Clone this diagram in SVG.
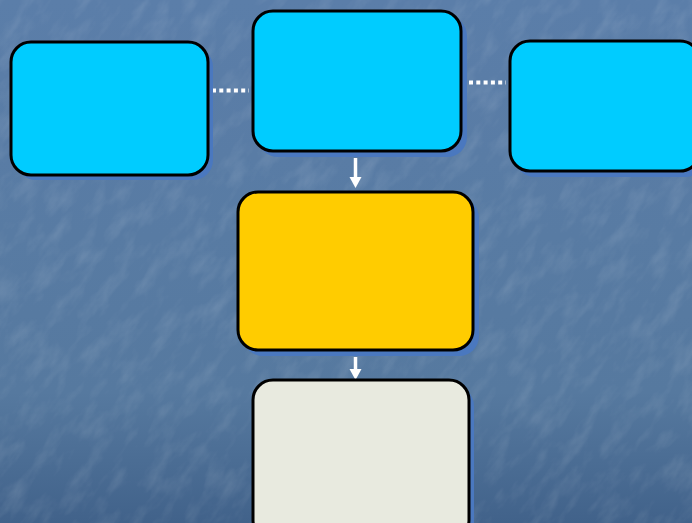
<svg xmlns="http://www.w3.org/2000/svg" width="692" height="523" viewBox="0 0 692 523">
  <defs>
    <linearGradient id="bg" x1="0" y1="0" x2="0" y2="1">
      <stop offset="0" stop-color="#5b7ea9"/>
      <stop offset="0.75" stop-color="#56799f"/>
      <stop offset="1" stop-color="#41628a"/>
    </linearGradient>
    <filter id="tex" x="0" y="0" width="100%" height="100%" filterUnits="objectBoundingBox">
      <feTurbulence type="fractalNoise" baseFrequency="0.03 0.07" numOctaves="4" seed="11"/>
      <feColorMatrix type="matrix" values="0 0 0 0 1  0 0 0 0 1  0 0 0 0 1  0 0 0 0.5 -0.22"/>
    </filter>
    <clipPath id="clip"><rect width="692" height="523"/></clipPath>
  </defs>
  <style>
    .box { stroke: #000000; stroke-width: 3; }
    .shadow { fill: #4a78bf; }
    .cyan { fill: #00ccff; }
    .yellow { fill: #ffcc00; }
    .light { fill: #e8eadf; }
    .dots { stroke: #ffffff; stroke-width: 4; stroke-dasharray: 4 3.3; fill: none; }
    .arrow { stroke: #ffffff; stroke-width: 3.5; fill: none; }
    .head { fill: #ffffff; }
  </style>
  <rect width="692" height="523" fill="url(#bg)"/>
  <g clip-path="url(#clip)">
    <g transform="translate(346 261) rotate(-55)">
      <rect x="-500" y="-500" width="1000" height="1000" filter="url(#tex)" opacity="0.45"/>
    </g>
  </g>

  <g id="connectors">
    <line class="dots" x1="212" y1="90.5" x2="249" y2="90.5"/>
    <line class="dots" x1="469" y1="82.5" x2="506" y2="82.5"/>
    <line class="arrow" x1="355.5" y1="158" x2="355.5" y2="178"/>
    <path class="head" d="M349.5,177 L361.5,177 L355.5,188 Z"/>
    <line class="arrow" x1="355.5" y1="357" x2="355.5" y2="370"/>
    <path class="head" d="M349.5,369 L361.5,369 L355.5,380 Z"/>
  </g>

  <g id="node-left">
    <rect class="shadow" x="16" y="47" width="197" height="133" rx="20"/>
    <rect class="box cyan" x="11" y="42" width="197" height="133" rx="20"/>
  </g>
  <g id="node-top">
    <rect class="shadow" x="258" y="16" width="209" height="141" rx="20"/>
    <rect class="box cyan" x="253" y="11" width="208" height="140" rx="20"/>
  </g>
  <g id="node-right">
    <rect class="shadow" x="515" y="46" width="190" height="131" rx="20"/>
    <rect class="box cyan" x="510" y="41" width="190" height="130" rx="20"/>
  </g>
  <g id="node-middle">
    <rect class="shadow" x="243" y="198" width="236" height="158" rx="20"/>
    <rect class="box yellow" x="238" y="192" width="235" height="158" rx="20"/>
  </g>
  <g id="node-bottom">
    <rect class="shadow" x="258" y="386" width="216" height="160" rx="20"/>
    <rect class="box light" x="253" y="380" width="216" height="160" rx="20"/>
  </g>
</svg>
